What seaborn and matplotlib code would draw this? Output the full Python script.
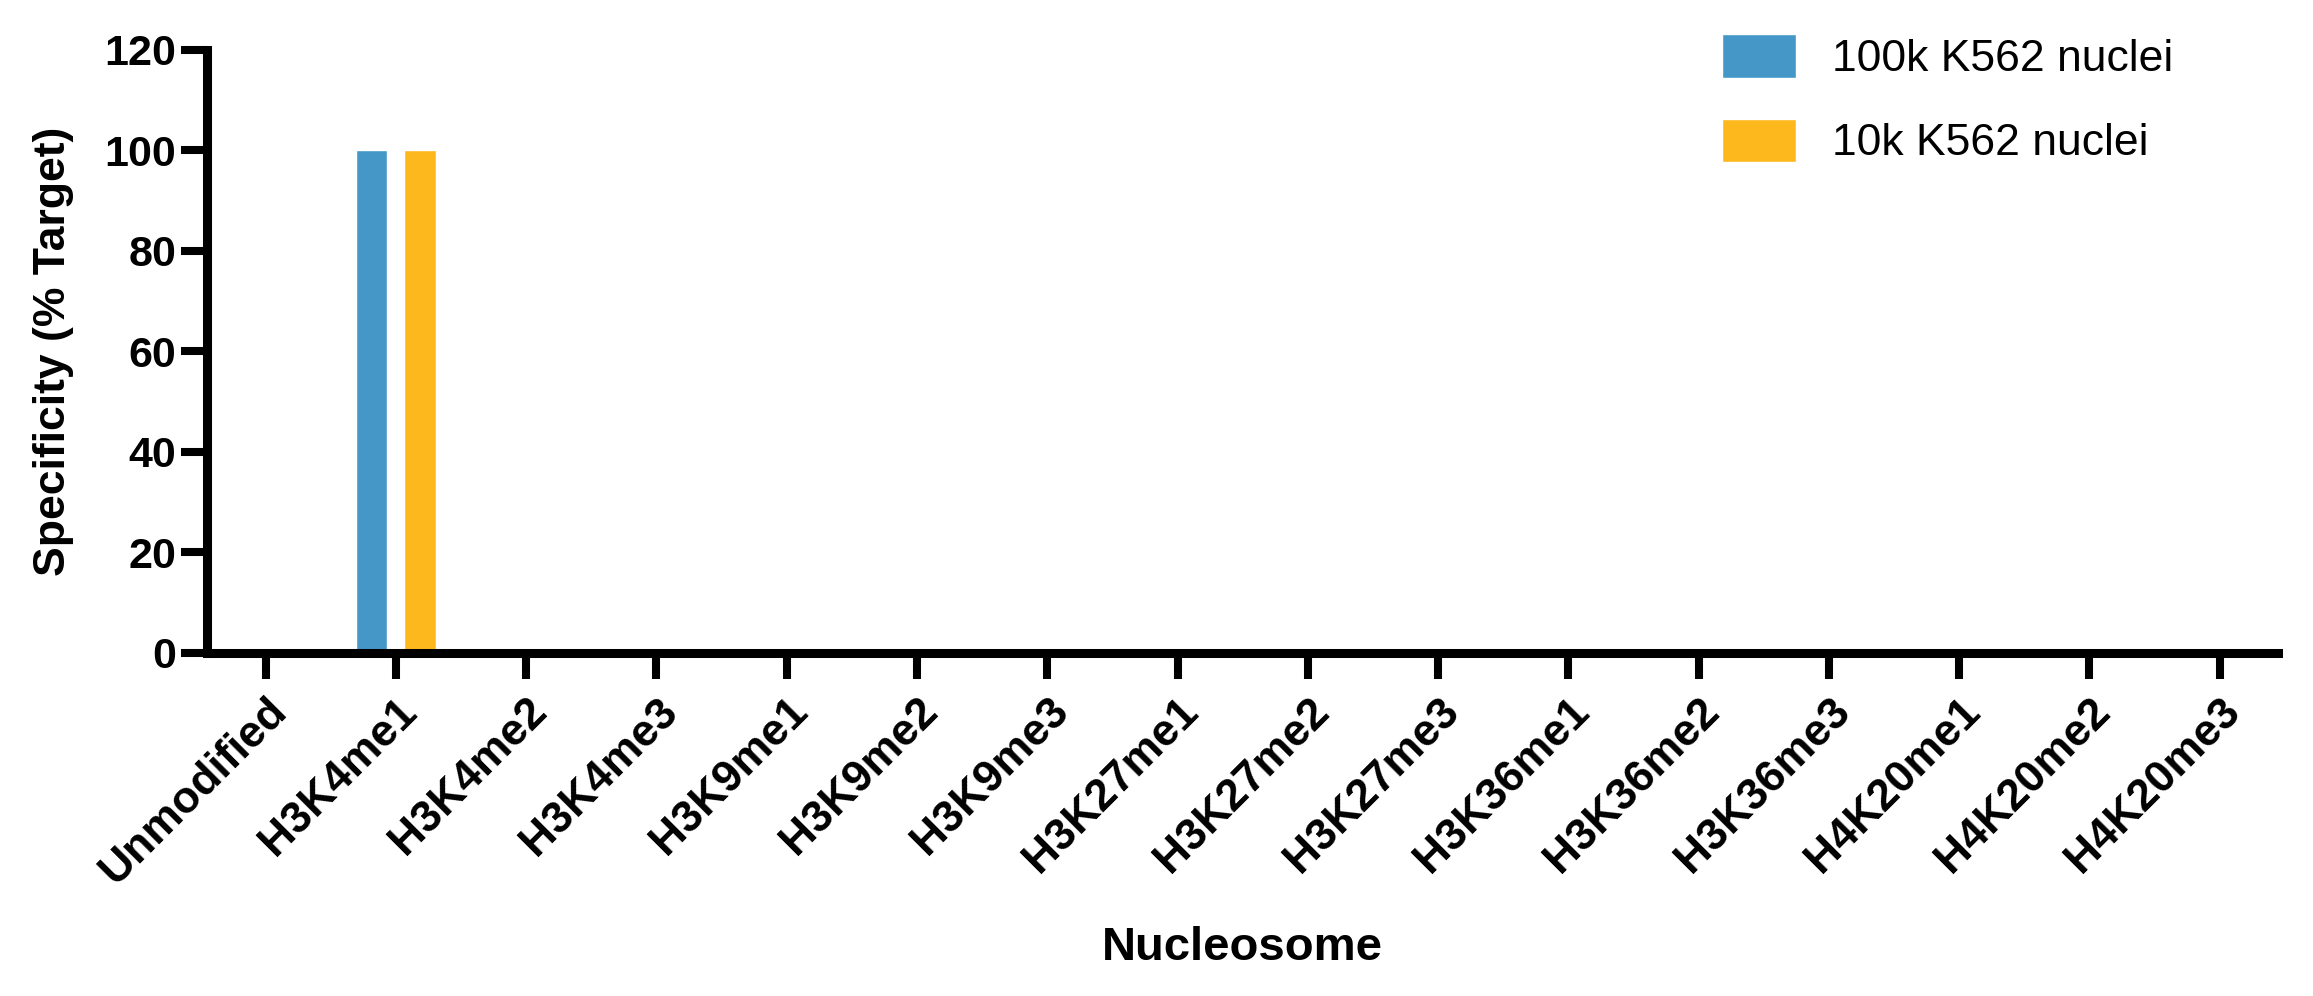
import matplotlib
matplotlib.use("Agg")
import matplotlib.pyplot as plt
import matplotlib.transforms as mtransforms
import seaborn as sns
import pandas as pd

categories = ["Unmodified", "H3K4me1", "H3K4me2", "H3K4me3", "H3K9me1", "H3K9me2",
              "H3K9me3", "H3K27me1", "H3K27me2", "H3K27me3", "H3K36me1", "H3K36me2",
              "H3K36me3", "H4K20me1", "H4K20me2", "H4K20me3"]
series_names = ["100k K562 nuclei", "10k K562 nuclei"]
values_100k = [0, 100, 0, 0, 0, 0, 0, 0, 0, 0, 0, 0, 0, 0, 0, 0]
values_10k = [0, 100, 0, 0, 0, 0, 0, 0, 0, 0, 0, 0, 0, 0, 0, 0]
yticks = [0, 20, 40, 60, 80, 100, 120]
colors = ["#4597c8", "#fdb81e"]

df = pd.DataFrame({
    "Nucleosome": categories * 2,
    "value": values_100k + values_10k,
    "sample": [series_names[0]] * len(categories) + [series_names[1]] * len(categories),
})

sns.set_style("ticks")
plt.rcParams["font.family"] = ["Liberation Sans", "DejaVu Sans"]
for k in ["text.color", "axes.labelcolor", "xtick.color", "ytick.color", "axes.edgecolor"]:
    plt.rcParams[k] = "black"

fig = plt.figure(figsize=(23.13, 9.96), dpi=100)
ax = fig.add_axes([0.0895, 0.3444, 0.8955, 0.6054])

sns.barplot(data=df, x="Nucleosome", y="value", hue="sample", order=categories,
            hue_order=series_names, palette=colors, width=0.75, gap=0.35,
            saturation=1, ax=ax, errorbar=None, legend=True)

ax.set_ylim(0, 120)
ax.set_xlim(-0.45, 15.45)
ax.set_yticks(yticks)
ax.set_yticklabels([str(v) for v in yticks], fontsize=31, fontweight="bold")
ax.set_xticks(range(len(categories)))
ax.set_xticklabels(categories, fontsize=32, fontweight="bold",
                   rotation=45, ha="right", va="top", rotation_mode="anchor")
shift = mtransforms.ScaledTranslation(-0.07, 0, fig.dpi_scale_trans)
for lab in ax.get_xticklabels():
    lab.set_transform(lab.get_transform() + shift)

for s in ["top", "right"]:
    ax.spines[s].set_visible(False)
for s in ["left", "bottom"]:
    ax.spines[s].set_linewidth(6.5)
    ax.spines[s].set_color("black")
    ax.spines[s].set_capstyle("projecting")

ax.tick_params(axis="y", length=19, width=5.8, pad=3, color="black")
ax.tick_params(axis="x", length=19, width=5.8, pad=8, color="black")

ax.set_xlabel("Nucleosome", fontsize=34, fontweight="bold", labelpad=24)
ax.set_ylabel("Specificity (% Target)", fontsize=32, fontweight="bold", labelpad=22)

handles, labels = ax.get_legend_handles_labels()
ax.legend(handles, labels, loc="upper left", bbox_to_anchor=(0.7445, 0.966),
          bbox_transform=fig.transFigure, frameon=False, fontsize=32,
          handlelength=1.66, handleheight=1.14, handletextpad=0.82,
          labelspacing=0.87, borderpad=0, borderaxespad=0)

fig.savefig("out.png", dpi=100, facecolor="white")
